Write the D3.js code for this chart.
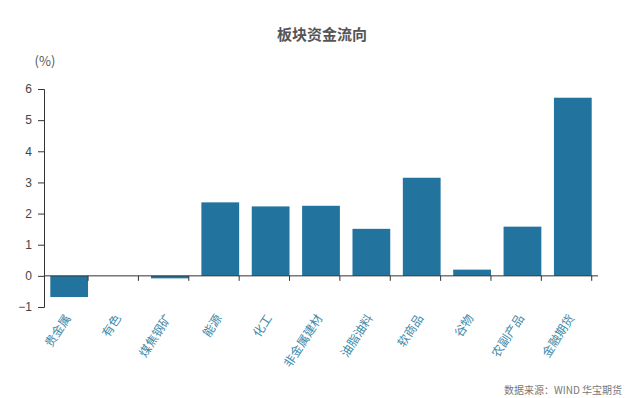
<!DOCTYPE html>
<html><head><meta charset="utf-8">
<script src="https://cdnjs.cloudflare.com/ajax/libs/d3/7.8.5/d3.min.js"></script>
<style>body{margin:0;background:#fff}svg{display:block}</style>
</head><body>
<script>
const categories = ["贵金属","有色","煤焦钢矿","能源","化工","非金属建材","油脂油料","软商品","谷物","农副产品","金融期货"];
const values = [-0.68, 0.0, -0.08, 2.36, 2.23, 2.25, 1.51, 3.15, 0.2, 1.58, 5.72];
const yTicks = [-1,0,1,2,3,4,5,6];
const title = "板块资金流向";
const unit = "(%)";
const source = "数据来源：WIND 华宝期货";

const W = 634, H = 398;
const svg = d3.select("body").append("svg").attr("width", W).attr("height", H);
const font = "'Noto Sans CJK SC','Noto Sans',sans-serif";

const x = d3.scaleBand().domain(categories).range([44, 598]).paddingInner(0.25).paddingOuter(0.125);
const y = d3.scaleLinear().domain([-1, 6]).range([307, 89]);

// bars
svg.append("g").selectAll("rect").data(values).join("rect")
  .attr("x", (d,i) => x(categories[i]))
  .attr("width", x.bandwidth())
  .attr("y", d => y(Math.max(0, d)))
  .attr("height", d => Math.abs(y(d) - y(0)))
  .attr("fill", "#22739e");

// y axis
const yAxis = svg.append("g").attr("transform", "translate(44,0)")
  .call(d3.axisLeft(y).tickValues(yTicks).tickFormat(d3.format("d")).tickSize(6).tickPadding(6));
yAxis.select(".domain").attr("stroke", "#333");
yAxis.selectAll(".tick line").attr("stroke", "#333");
yAxis.selectAll(".tick text").attr("fill", "#444").style("font-size", "12px").style("font-family", "'Liberation Sans',Arial,sans-serif");

// x axis with ticks at band boundaries
const xg = svg.append("g").attr("transform", `translate(0,${y(0)})`);
xg.append("line").attr("x1", 44).attr("x2", 598).attr("y1", 0).attr("y2", 0).attr("stroke", "#333");
const step = x.step();
const bounds = d3.range(1, categories.length + 1).map(i => x(categories[0]) - x.paddingOuter()*step - x.paddingInner()*step/2 + i*step);
xg.selectAll("line.tk").data(bounds).join("line").attr("class","tk")
  .attr("x1", d => d).attr("x2", d => d).attr("y1", 0).attr("y2", 5).attr("stroke", "#333");

// x labels
svg.append("g").selectAll("text").data(categories).join("text")
  .attr("transform", d => `translate(${x(d) + x.bandwidth()/2 + 2},${y(0) + 42}) rotate(-57)`)
  .attr("text-anchor", "end")
  .attr("fill", "#3f8aa8")
  .style("font-size", "12px").style("font-family", font)
  .text(d => d);

// title
svg.append("text").attr("x", 322).attr("y", 40).attr("text-anchor", "middle")
  .attr("fill", "#555").style("font-size", "15px").style("font-weight", "bold").style("font-family", font)
  .text(title);

svg.append("text").attr("x", 45).attr("y", 66).attr("text-anchor", "middle")
  .attr("fill", "#555").style("font-size", "13px").style("font-family", font)
  .text(unit);

svg.append("text").attr("x", 622).attr("y", 394).attr("text-anchor", "end")
  .attr("fill", "#777").style("font-size", "10px").style("font-family", font)
  .text(source);
</script>
</body></html>
